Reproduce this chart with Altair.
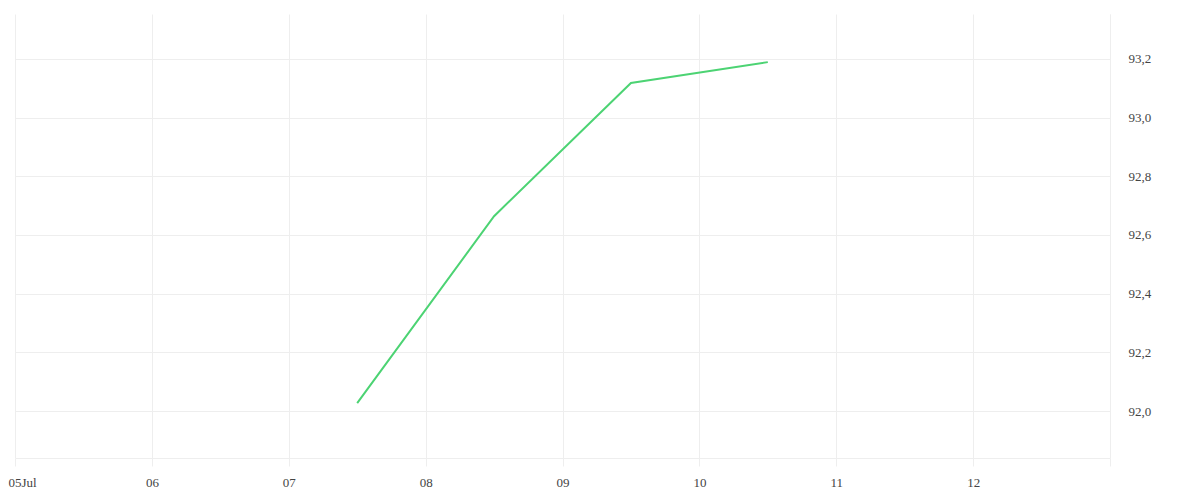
import altair as alt
import pandas as pd

dates = ["2023-07-07T12:00:00", "2023-07-08T12:00:00", "2023-07-09T12:00:00", "2023-07-10T12:00:00"]
values = [92.027, 92.664, 93.118, 93.189]

df = pd.DataFrame({"date": dates, "value": values})

tick_days = [5, 6, 7, 8, 9, 10, 11, 12, 13]
tick_vals = [alt.DateTime(year=2023, month=7, date=d) for d in tick_days]
y_ticks = [92.0, 92.2, 92.4, 92.6, 92.8, 93.0, 93.2]

font = "Liberation Serif"
first_test = "date(datum.value) == 5"

chart = alt.Chart(df).mark_line(color="#4cd373", strokeWidth=2).encode(
    x=alt.X("date:T",
            scale=alt.Scale(domain=[alt.DateTime(year=2023, month=7, date=5),
                                    alt.DateTime(year=2023, month=7, date=13)]),
            axis=alt.Axis(values=tick_vals, title=None, grid=True, gridColor="#eeeeee",
                          domainColor="#eeeeee", tickColor="#eeeeee", tickSize=8,
                          labelFont=font, labelFontSize=13, labelColor="#444444",
                          labelPadding=10, labelFlush=False, labelOverlap=False,
                          labelAlign={"condition": {"test": first_test, "value": "left"}, "value": "center"},
                          labelOffset={"condition": {"test": first_test, "value": -7}, "value": 0},
                          labelExpr="date(datum.value) == 13 ? '' : (date(datum.value) == 5 ? timeFormat(datum.value, '%d%b') : timeFormat(datum.value, '%d'))")),
    y=alt.Y("value:Q",
            scale=alt.Scale(domain=[91.84, 93.353], nice=False, zero=False),
            axis=alt.Axis(orient="right", values=y_ticks, title=None, grid=True, gridColor="#eeeeee",
                          domainColor="#eeeeee", ticks=False, labelPadding=18,
                          labelFont=font, labelFontSize=13, labelColor="#444444",
                          labelExpr="replace(format(datum.value, '.1f'), '.', ',')")),
).properties(
    width=1095, height=444,
    autosize=alt.AutoSizeParams(type="none"),
    padding={"left": 7, "top": 6, "right": 80, "bottom": 30},
).configure_view(stroke=None)

chart.save("out.html", embed_options={"renderer": "svg", "actions": False})
